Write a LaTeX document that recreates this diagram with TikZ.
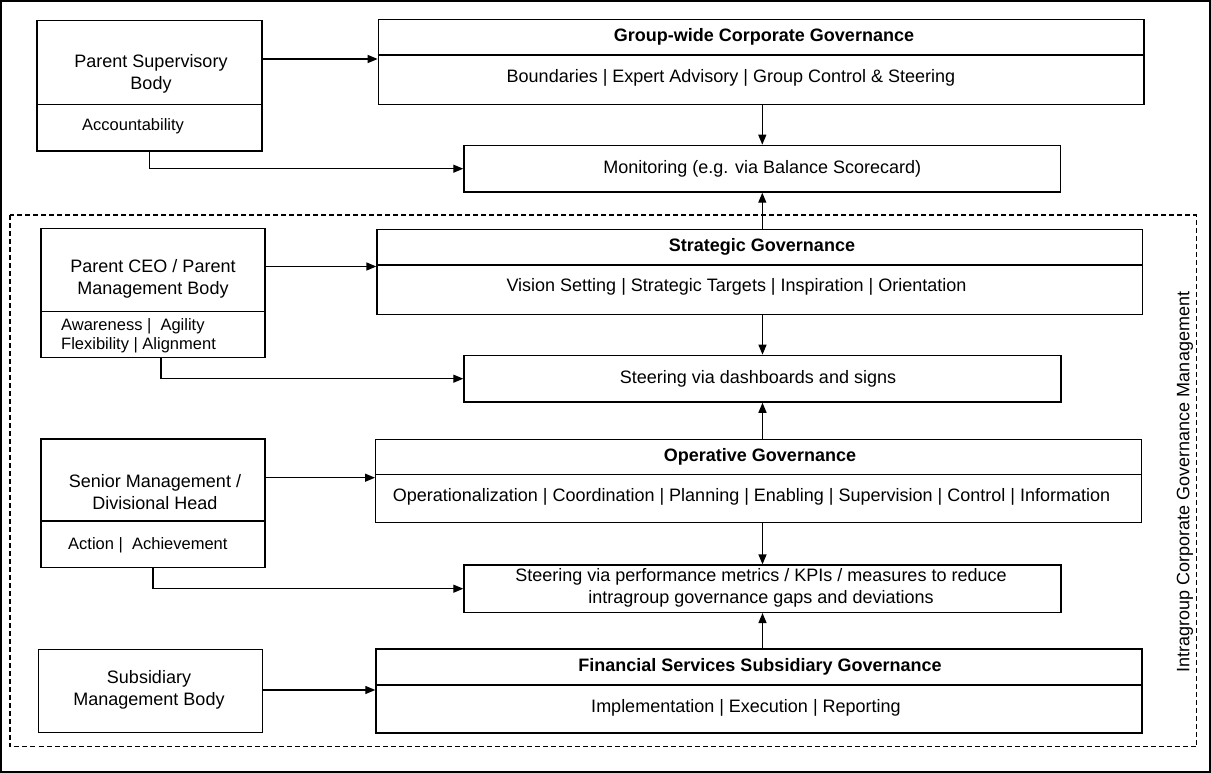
\documentclass[tikz,border=0pt]{standalone}
\usepackage{fontspec}
\setmainfont{Liberation Sans}
\usetikzlibrary{arrows.meta}
\begin{document}
\begin{tikzpicture}[x=1pt,y=-1pt,
  box/.style={draw, line width=1.4pt, inner sep=0pt},
  lbl/.style={font=\fontsize{18}{22}\selectfont, inner sep=0pt, align=center},
  hd/.style={font=\fontsize{18}{22}\selectfont\bfseries, inner sep=0pt, align=center},
  small/.style={font=\fontsize{16.5}{19.5}\selectfont, inner sep=0pt, align=left, anchor=west},
  divider/.style={line width=1.4pt},
  arr/.style={line width=1.3pt, -{Triangle[length=10pt,width=8pt]}},
  frame/.style={line width=1.2pt, dash pattern=on 5pt off 3pt}]

\useasboundingbox (0,0) rectangle (1211,773);
\draw[line width=2pt] (1,1) rectangle (1210,772);

% dashed region of intragroup management
\draw[frame] (10,215) rectangle (1196.5,746.5);
\node[lbl, rotate=90] (igm) at (1185,482) {Intragroup Corporate Governance Management};

% left column: bodies
\node[box, minimum width=225pt, minimum height=130.3pt] (psb) at (149.5,85.85) {};
\draw[divider] (psb.west |- 0,104.5) -- (psb.east |- 0,104.5);
\node[lbl] (psbt) at (151,74) {Parent Supervisory\\Body};
\node[small] (psba) at (82,126) {Accountability};

\node[box, minimum width=224pt, minimum height=129.4pt] (ceo) at (153,293) {};
\draw[divider] (ceo.west |- 0,311.7) -- (ceo.east |- 0,311.7);
\node[lbl] (ceot) at (153,278.5) {Parent CEO / Parent\\Management Body};
\node[small] (ceoa) at (61,336) {Awareness |\ \ Agility\\Flexibility | Alignment};

\node[box, minimum width=224pt, minimum height=128.7pt] (sm) at (153,503.35) {};
\draw[divider] (sm.west |- 0,521) -- (sm.east |- 0,521);
\node[lbl] (smt) at (155,492.5) {Senior Management /\\Divisional Head};
\node[small] (sma) at (68,545) {Action |\ \ Achievement};

\node[box, minimum width=224pt, minimum height=83pt] (smb) at (150.5,690.8) {};
\node[lbl] (smbt) at (149,690) {Subsidiary\\Management Body};

% right column: governance layers
\node[box, minimum width=765.7pt, minimum height=84.6pt] (gw) at (761.2,62) {};
\draw[divider] (gw.west |- 0,55) -- (gw.east |- 0,55);
\node[hd] (gwh) at (764,37) {Group-wide Corporate Governance};
\node[lbl] (gwb) at (731,78) {Boundaries | Expert Advisory | Group Control \& Steering};

\node[box, minimum width=596.7pt, minimum height=46.7pt] (mon) at (762.3,168.7) {};
\node[lbl] (mont) at (762.3,168.5) {Monitoring (e.g. via Balance Scorecard)};

\node[box, minimum width=765.7pt, minimum height=85pt] (sg) at (759.9,271.8) {};
\draw[divider] (sg.west |- 0,265) -- (sg.east |- 0,265);
\node[hd] (sgh) at (762,247) {Strategic Governance};
\node[lbl] (sgb) at (736.5,286.7) {Vision Setting | Strategic Targets | Inspiration | Orientation};

\node[box, minimum width=597pt, minimum height=46.7pt] (dash) at (762.5,378.7) {};
\node[lbl] (dasht) at (758,379) {Steering via dashboards and signs};

\node[box, minimum width=766pt, minimum height=83.4pt] (og) at (758.7,481) {};
\draw[divider] (og.west |- 0,474.3) -- (og.east |- 0,474.3);
\node[hd] (ogh) at (760,457) {Operative Governance};
\node[lbl] (ogb) at (751.5,496.7) {Operationalization | Coordination | Planning | Enabling | Supervision | Control | Information};

\node[box, minimum width=597pt, minimum height=47.3pt] (kpi) at (762.5,588.7) {};
\node[lbl] (kpit) at (761,587.5) {Steering via performance metrics / KPIs / measures to reduce\\intragroup governance gaps and deviations};

\node[box, minimum width=766pt, minimum height=84pt] (fg) at (759,691) {};
\draw[divider] (fg.west |- 0,685) -- (fg.east |- 0,685);
\node[hd] (fgh) at (760,667) {Financial Services Subsidiary Governance};
\node[lbl] (fgb) at (746,708) {Implementation | Execution | Reporting};

% bodies to their governance layers
\draw[arr] (psb.east |- 0,59) -- (gw.west |- 0,59);
\draw[arr] (ceo.east |- 0,266.5) -- (sg.west |- 0,266.5);
\draw[arr] (sm.east |- 0,477.7) -- (og.west |- 0,477.7);
\draw[arr] (smb.east |- 0,690) -- (fg.west |- 0,690);

% bodies to monitoring and steering
\draw[arr] (psb.south) |- (mon.west);
\draw[arr] ([xshift=8pt]ceo.south) |- (dash.west);
\draw[arr] (sm.south) |- (kpi.west);

% vertical flow between layers
\draw[arr] (mon.north |- gw.south) -- (mon.north);
\draw[arr] (mon.south |- sg.north) -- (mon.south);
\draw[arr] (dash.north |- sg.south) -- (dash.north);
\draw[arr] (dash.south |- og.north) -- (dash.south);
\draw[arr] (kpi.north |- og.south) -- (kpi.north);
\draw[arr] (kpi.south |- fg.north) -- (kpi.south);
\end{tikzpicture}
\end{document}
